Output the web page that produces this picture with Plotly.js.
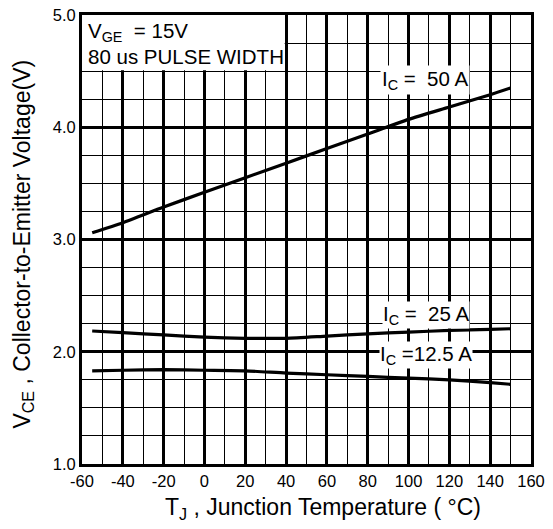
<!DOCTYPE html>
<html>
<head>
<meta charset="utf-8">
<script src="https://cdn.plot.ly/plotly-3.0.1.min.js"></script>
<style>html,body{margin:0;padding:0;background:#fff;}#chart{width:553px;height:529px;}</style>
</head>
<body>
<div id="chart"></div>
<script>
const temps = [-55, -40, -20, 0, 20, 40, 60, 80, 100, 120, 140, 150];
const vce50 = [3.06, 3.15, 3.29, 3.42, 3.55, 3.68, 3.81, 3.94, 4.07, 4.18, 4.29, 4.35];
const vce25 = [2.185, 2.17, 2.15, 2.13, 2.12, 2.12, 2.14, 2.16, 2.175, 2.19, 2.2, 2.205];
const vce125 = [1.83, 1.835, 1.84, 1.835, 1.83, 1.81, 1.795, 1.78, 1.765, 1.75, 1.725, 1.71];
const seriesNames = ['I<sub>C</sub> =  50 A', 'I<sub>C</sub> =  25 A', 'I<sub>C</sub> =12.5 A'];
const xTicks = [-60, -40, -20, 0, 20, 40, 60, 80, 100, 120, 140, 160];
const yTicks = [1.0, 2.0, 3.0, 4.0, 5.0];
const xTitle = 'T<sub>J</sub> , Junction Temperature ( °C)';
const yTitle = 'V<sub>CE</sub> , Collector-to-Emitter Voltage(V)';

const font = 'Liberation Sans, Arial, sans-serif';
const lineStyle = {color: '#000', width: 3.2, shape: 'spline', smoothing: 0.6};
const traces = [vce50, vce25, vce125].map((v, i) => ({
  x: temps, y: v, type: 'scatter', mode: 'lines', line: lineStyle,
  name: seriesNames[i], showlegend: false, hoverinfo: 'skip'
}));

const axisCommon = {
  showline: true, mirror: true, linecolor: '#000', linewidth: 3,
  showgrid: true, gridcolor: '#000', gridwidth: 3,
  zeroline: false, ticks: '', tickfont: {family: font, size: 16.5, color: '#000'},
  layer: 'above traces'
};
const annFont = {family: font, size: 20.5, color: '#000'};
const titleFont = {family: font, size: 23, color: '#000'};

const layout = {
  width: 553, height: 529,
  margin: {l: 82, r: 22, t: 15, b: 65},
  paper_bgcolor: '#fff', plot_bgcolor: '#fff',
  font: {family: font, color: '#000'},
  xaxis: Object.assign({}, axisCommon, {
    range: [-60, 160], tickvals: xTicks, ticktext: xTicks.map(String),
    minor: {dtick: 10, tick0: 0, showgrid: true, gridcolor: '#000', gridwidth: 1}
  }),
  yaxis: Object.assign({}, axisCommon, {
    range: [1, 5], tickvals: yTicks, ticktext: yTicks.map(v => v.toFixed(1)),
    minor: {dtick: 0.25, tick0: 0, showgrid: true, gridcolor: '#000', gridwidth: 1}
  }),
  shapes: [
    {type: 'rect', xref: 'x', yref: 'y', x0: -60, x1: 39.3, y0: 4.507, y1: 5,
     fillcolor: '#fff', line: {width: 0}, layer: 'between'}
  ],
  annotations: [
    {x: 0.537, y: -0.1, xref: 'paper', yref: 'paper', xanchor: 'center', yanchor: 'middle',
     showarrow: false, text: xTitle, font: titleFont},
    {x: -0.13, y: 0.49, xref: 'paper', yref: 'paper', xanchor: 'center', yanchor: 'middle',
     showarrow: false, textangle: -90, text: yTitle, font: titleFont},
    {x: -57.8, y: 4.85, xref: 'x', yref: 'y', xanchor: 'left', yanchor: 'middle', showarrow: false,
     text: 'V<sub>GE</sub>  = 15V', font: annFont},
    {x: -57.8, y: 4.627, xref: 'x', yref: 'y', xanchor: 'left', yanchor: 'middle', showarrow: false,
     text: '80 us PULSE WIDTH', font: annFont},
    {x: 108, y: 4.42, xref: 'x', yref: 'y', showarrow: false, text: seriesNames[0],
     bgcolor: '#fff', borderpad: 1, font: annFont},
    {x: 108.5, y: 2.33, xref: 'x', yref: 'y', showarrow: false, text: seriesNames[1],
     bgcolor: '#fff', borderpad: 0, font: annFont},
    {x: 108.5, y: 1.97, xref: 'x', yref: 'y', showarrow: false, text: seriesNames[2],
     bgcolor: '#fff', borderpad: 0, font: annFont}
  ]
};

Plotly.newPlot('chart', traces, layout, {staticPlot: true, displayModeBar: false});
</script>
</body>
</html>
